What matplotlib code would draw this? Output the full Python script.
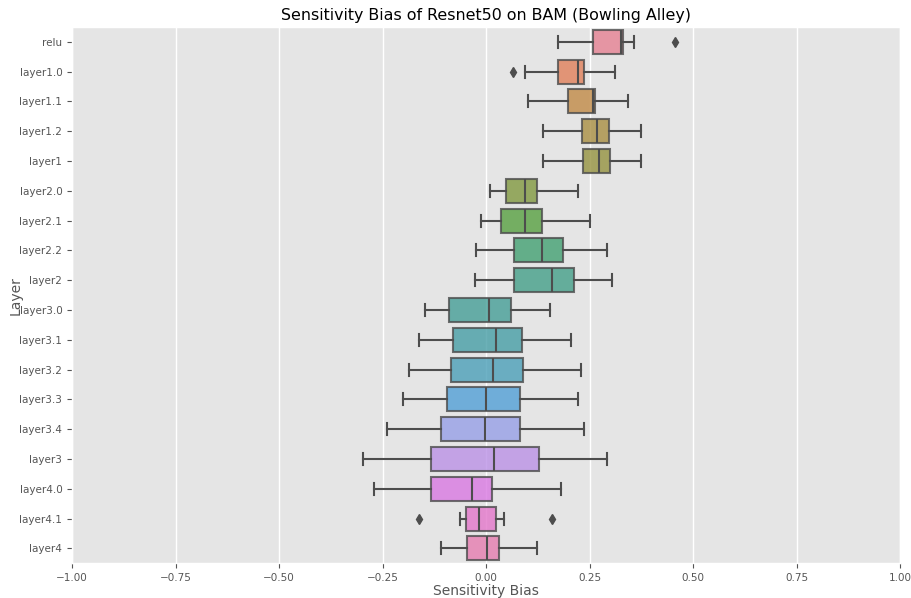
import numpy as np
import matplotlib
matplotlib.use("Agg")
import matplotlib.pyplot as plt
import seaborn as sns

plt.style.use("ggplot")

layers = ["relu", "layer1.0", "layer1.1", "layer1.2", "layer1",
          "layer2.0", "layer2.1", "layer2.2", "layer2",
          "layer3.0", "layer3.1", "layer3.2", "layer3.3", "layer3.4", "layer3",
          "layer4.0", "layer4.1", "layer4"]

# five-number summaries
whislo = [0.174, 0.093, 0.102, 0.137, 0.138,
          0.009, -0.013, -0.025, -0.028,
          -0.148, -0.163, -0.187, -0.201, -0.239, -0.297,
          -0.270, -0.0635, -0.109]
q1 = [0.257, 0.174, 0.197, 0.231, 0.233,
      0.048, 0.037, 0.067, 0.067,
      -0.089, -0.081, -0.085, -0.094, -0.109, -0.133,
      -0.134, -0.049, -0.047]
med = [0.325, 0.222, 0.258, 0.269, 0.2715,
       0.094, 0.093, 0.134, 0.160,
       0.008, 0.023, 0.016, 0.000, -0.0015, 0.018,
       -0.034, -0.017, 0.001]
q3 = [0.331, 0.236, 0.262, 0.296, 0.299,
      0.122, 0.134, 0.185, 0.213,
      0.060, 0.087, 0.088, 0.081, 0.081, 0.127,
      0.014, 0.023, 0.031]
whishi = [0.357, 0.311, 0.342, 0.373, 0.374,
          0.223, 0.250, 0.292, 0.304,
          0.155, 0.204, 0.229, 0.223, 0.237, 0.293,
          0.180, 0.043, 0.122]
fliers = [[0.457], [0.0645], [], [], [],
          [], [], [], [],
          [], [], [], [], [], [],
          [], [-0.162, 0.159], []]

stats = []
for i, name in enumerate(layers):
    stats.append(dict(label=name, whislo=whislo[i], q1=q1[i], med=med[i],
                      q3=q3[i], whishi=whishi[i], fliers=fliers[i]))

colors = [sns.desaturate(c, 0.75) for c in sns.color_palette("husl", len(layers))]
gray = "#4d4d4d"

fig = plt.figure(figsize=(9.12, 5.98), dpi=100)
ax = fig.add_axes([0.079, 0.058, 0.908, 0.897])

pos = np.arange(len(layers))
bp = ax.bxp(stats, positions=pos, vert=False, widths=0.8, patch_artist=True,
            boxprops=dict(edgecolor=gray, linewidth=1.5),
            medianprops=dict(color=gray, linewidth=1.5),
            whiskerprops=dict(color=gray, linewidth=1.5),
            capprops=dict(color=gray, linewidth=1.5),
            flierprops=dict(marker="d", markerfacecolor=gray, markeredgecolor=gray,
                            markersize=5, linestyle="none"))
for patch, c in zip(bp["boxes"], colors):
    patch.set_facecolor(c)
    patch.set_alpha(0.8)

ax.set_xlim(-1, 1)
ax.set_ylim(len(layers) - 0.5, -0.5)
ax.set_yticks(pos)
ax.set_yticklabels(layers)
ticks = np.arange(-1, 1.01, 0.25)
ax.set_xticks(ticks)
ax.set_xticklabels(["{:.2f}".format(v).replace("-", "\u2212") for v in ticks])
ax.yaxis.grid(False)
ax.xaxis.grid(True, color="white", linewidth=1)
ax.set_axisbelow(True)
ax.tick_params(labelsize=7.5, colors="#555555")
ax.set_xlabel("Sensitivity Bias", fontsize=10, color="#555555", labelpad=1)
ax.set_ylabel("Layer", fontsize=10, color="#555555", labelpad=-2)
ax.set_title("Sensitivity Bias of Resnet50 on BAM (Bowling Alley)", fontsize=11.4, pad=5)

fig.savefig("out.png", dpi=100)
